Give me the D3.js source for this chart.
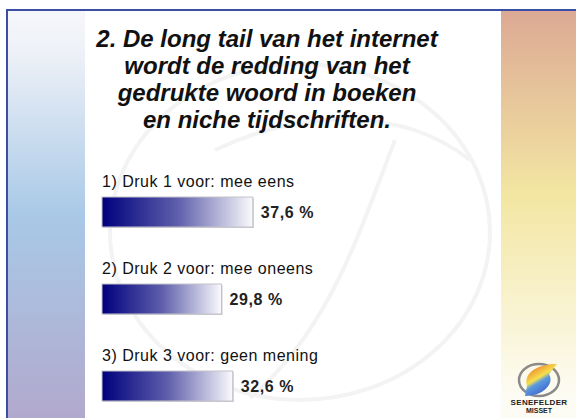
<!DOCTYPE html>
<html>
<head>
<meta charset="utf-8">
<script src="https://cdn.jsdelivr.net/npm/d3@7"></script>
<style>
  html, body { margin: 0; padding: 0; background: #fff; }
  svg { display: block; font-family: "Liberation Sans", Arial, sans-serif; }
</style>
</head>
<body>
<div id="chart"></div>
<script>
/* question text, one entry per line */
var titleLines = [
    "2. De long tail van het internet",
    "wordt de redding van het",
    "gedrukte woord in boeken",
    "en niche tijdschriften."
];

/* answers and percentages */
var answers = [
    "1) Druk 1 voor: mee eens",
    "2) Druk 2 voor: mee oneens",
    "3) Druk 3 voor: geen mening"
];
var percents = [37.6, 29.8, 32.6];

var width = 576, height = 418;

var svg = d3.select("#chart")
    .append("svg")
    .attr("width", width)
    .attr("height", height);

var defs = svg.append("defs");

/* side strips */
var leftGrad = defs.append("linearGradient")
    .attr("id", "leftStrip").attr("x1", 0).attr("y1", 0).attr("x2", 0).attr("y2", 1);
leftGrad.append("stop").attr("offset", "0%").attr("stop-color", "#f6f7fb");
leftGrad.append("stop").attr("offset", "10%").attr("stop-color", "#eef1f7");
leftGrad.append("stop").attr("offset", "50%").attr("stop-color", "#a9c9e7");
leftGrad.append("stop").attr("offset", "100%").attr("stop-color", "#b1a9cd");

var rightGrad = defs.append("linearGradient")
    .attr("id", "rightStrip").attr("x1", 0).attr("y1", 0).attr("x2", 0).attr("y2", 1);
rightGrad.append("stop").attr("offset", "0%").attr("stop-color", "#dca994");
rightGrad.append("stop").attr("offset", "45%").attr("stop-color", "#f3e6a2");
rightGrad.append("stop").attr("offset", "95%").attr("stop-color", "#fdfcf4");

/* bar fill: navy to white */
var barGrad = defs.append("linearGradient")
    .attr("id", "barFill").attr("x1", 0).attr("y1", 0).attr("x2", 1).attr("y2", 0);
barGrad.append("stop").attr("offset", "0%").attr("stop-color", "#00007e");
barGrad.append("stop").attr("offset", "50%").attr("stop-color", "#5e5eab");
barGrad.append("stop").attr("offset", "100%").attr("stop-color", "#fafafd");

/* logo fill */
var logoGrad = defs.append("linearGradient")
    .attr("id", "logoFill").attr("x1", 0).attr("y1", 0).attr("x2", 0.6).attr("y2", 1);
logoGrad.append("stop").attr("offset", "0%").attr("stop-color", "#e0503a");
logoGrad.append("stop").attr("offset", "30%").attr("stop-color", "#f2a83a");
logoGrad.append("stop").attr("offset", "50%").attr("stop-color", "#f6e04a");
logoGrad.append("stop").attr("offset", "62%").attr("stop-color", "#5a9ae0");
logoGrad.append("stop").attr("offset", "100%").attr("stop-color", "#3a5cc8");

svg.append("rect")
    .attr("x", 7).attr("y", 11).attr("width", 78).attr("height", height - 11)
    .attr("fill", "url(#leftStrip)");

svg.append("rect")
    .attr("x", 501).attr("y", 11).attr("width", width - 501).attr("height", height - 11)
    .attr("fill", "url(#rightStrip)");

/* faint watermark swirl behind the bars */
var mark = svg.append("g")
    .attr("fill", "none")
    .attr("stroke", "#f3f3f3")
    .attr("stroke-width", 4);
mark.append("ellipse")
    .attr("cx", 300).attr("cy", 232).attr("rx", 190).attr("ry", 168);
mark.append("path")
    .attr("d", "M250,398 C330,330 360,230 395,140");
mark.append("path")
    .attr("d", "M215,150 C300,110 400,105 470,160");

/* frame border */
svg.append("path")
    .attr("d", "M7," + height + " L7,10 L" + width + ",10")
    .attr("fill", "none")
    .attr("stroke", "#3a4ea6")
    .attr("stroke-width", 2);

/* title */
svg.append("g")
    .selectAll("text")
    .data(titleLines)
    .enter()
    .append("text")
    .attr("x", 267)
    .attr("y", function (d, i) { return 47 + i * 27; })
    .attr("text-anchor", "middle")
    .attr("font-size", 24)
    .attr("font-weight", "bold")
    .attr("font-style", "italic")
    .attr("fill", "#111")
    .text(function (d) { return d; });

/* scales */
var x = d3.scaleLinear().domain([0, 100]).range([0, 401]);
var y = d3.scaleBand().domain(answers).range([172, 433]);
var x0 = 102;
var barH = 30;

var rows = svg.append("g")
    .selectAll("g")
    .data(answers.map(function (a, i) { return { label: a, value: percents[i] }; }))
    .enter()
    .append("g")
    .attr("transform", function (d) { return "translate(" + x0 + "," + y(d.label) + ")"; });

rows.append("text")
    .attr("x", 0)
    .attr("y", 15)
    .attr("font-size", 16)
    .attr("letter-spacing", 0.5)
    .attr("fill", "#111")
    .text(function (d) { return d.label; });

/* soft shadow under each bar */
rows.append("rect")
    .attr("x", 1).attr("y", 26)
    .attr("width", function (d) { return x(d.value); })
    .attr("height", barH)
    .attr("fill", "#c8c8d0");

rows.append("rect")
    .attr("x", 0).attr("y", 25)
    .attr("width", function (d) { return x(d.value); })
    .attr("height", barH)
    .attr("fill", "url(#barFill)")
    .attr("stroke", "#c4c4c8")
    .attr("stroke-width", 1);

rows.append("text")
    .attr("x", function (d) { return x(d.value) + 8; })
    .attr("y", 25 + barH / 2 + 6)
    .attr("font-size", 16)
    .attr("font-weight", "bold")
    .attr("letter-spacing", 0.6)
    .attr("fill", "#222")
    .text(function (d) { return d3.format(".1f")(d.value).replace(".", ",") + " %"; });

/* logo, bottom right */
var logo = svg.append("g").attr("transform", "translate(539,380)");
logo.append("ellipse")
    .attr("rx", 20).attr("ry", 16)
    .attr("fill", "none").attr("stroke", "#8a8a8a").attr("stroke-width", 2.5);
logo.append("path")
    .attr("d", "M-12,6 C-16,-8 0,-16 18,-16 L10,-6 C16,4 4,16 -14,16 Z")
    .attr("fill", "url(#logoFill)");
logo.append("text")
    .attr("x", 0).attr("y", 25)
    .attr("text-anchor", "middle")
    .attr("font-size", 8)
    .attr("font-weight", "bold")
    .attr("letter-spacing", 0.3)
    .attr("fill", "#222")
    .text("SENEFELDER");
logo.append("text")
    .attr("x", 0).attr("y", 33)
    .attr("text-anchor", "middle")
    .attr("font-size", 7)
    .attr("font-weight", "bold")
    .attr("fill", "#222")
    .text("MISSET");
</script>
</body>
</html>
